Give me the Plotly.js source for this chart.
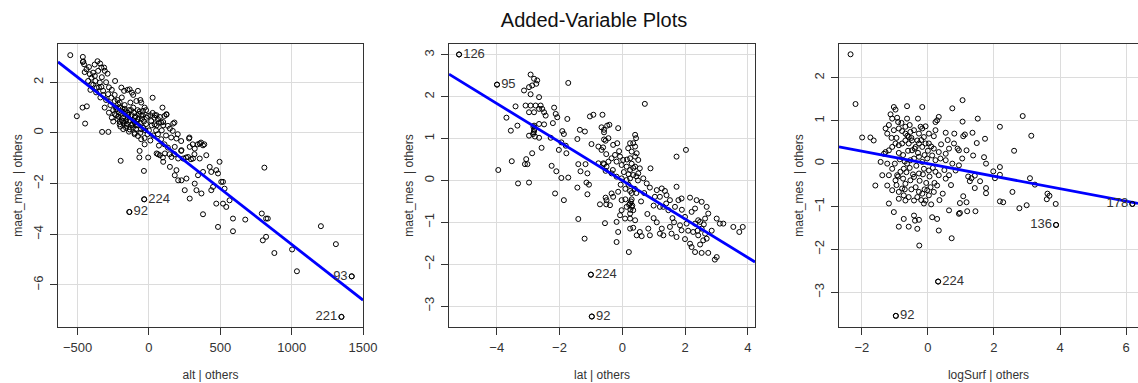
<!DOCTYPE html>
<html>
<head>
<meta charset="utf-8">
<script src="https://cdn.plot.ly/plotly-3.0.1.min.js"></script>
<style>html,body{margin:0;padding:0;background:#fff;}#chart{width:1138px;height:383px;}</style>
</head>
<body>
<div id="chart"></div>
<script>
// ---------- Panel 1: alt | others ----------
const altX = [
-551,-463,-463,-360,-342,-314,-290,-505,-447,-435,-465,-328,-284,-198,-237,26,-35,-67,-5,-137,-33,
-460,-454,-333,-356,-309,-437,-414,-402,-391,-379,-375,-426,-402,-367,-344,-333,-321,-193,-174,-135,-119,-77,-88,-54,
-286,-263,-240,-216,-228,-193,-170,-147,-181,-205,-158,-135,-112,-100,-77,-54,-42,-30,
-7,16,40,63,86,109,133,179,167,202,156,226,284,307,342,365,388,63,86,109,133,144,179,226,260,295,319,63,98,-65,-30,-54,-77,-100,
-180,-160,-150,-140,-120,-110,-100,-90,-80,-70,-60,-50,-40,-20,0,-190,-210,-220,-230,-200,-170,-130,-120,-160,-140,-100,-30,10,30,50,70,90,120,
-250,-260,-270,-280,-300,-310,-320,-340,-350,-370,-390,-410,-420,-450,-380,-330,-300,-280,-260,-240,-220,-205,-190,-150,-110,-60,-20,10,40,70,100,20,-10,26,53,95,123,
42,77,123,170,147,100,54,193,181,228,281,286,356,379,321,402,356,309,274,240,205,158,112,77,54,100,147,193,228,263,205,181,251,286,321,333,368,344,379,426,437,472,484,495,507,519,530,449,437,472,519,542,565,379,484,589,589,675,809,791,821,833,798,821,879,1003,1037,1205,1310,1421,1349,
-215,-205,-195,-185,-175,-165,-155,-145,-135,-125,-115,-105,-95,-85,-75,-65,-55,-45,-35,-25,-15,-200,-180,-240,-230,-250,-170,-110,-90,-60
];
const altY = [
3.07,3.0,2.8,2.83,2.74,2.58,2.34,0.66,0.37,1.05,1.0,0.04,0.04,-1.1,2.05,1.39,-1.5,-0.97,-0.97,-3.12,-2.62,
2.82,2.71,2.58,2.45,2.45,2.51,2.32,2.18,2.38,2.25,2.05,2.05,1.92,1.79,1.99,1.82,1.66,1.79,1.66,1.72,1.59,1.66,1.26,1.2,
1.53,1.39,1.26,1.13,0.93,0.87,0.74,0.60,0.47,0.34,0.28,0.14,0.21,0.41,0.54,0.67,0.87,1.0,
0.67,0.47,0.34,0.54,0.41,0.67,0.28,0.41,0.08,-0.05,-0.18,-0.32,-0.18,-0.45,-0.45,-0.38,-0.45,-0.05,-0.25,-0.45,-0.58,-0.84,-0.84,-0.71,-0.97,-1.04,-0.84,-0.84,-0.97,-0.71,-0.45,-0.25,-0.12,-0.05,
0.6,0.5,0.8,0.9,0.7,0.5,0.6,0.3,0.9,0.75,0.4,0.55,0.2,0.35,0.1,0.5,0.8,0.55,0.7,1.0,1.1,1.2,0.3,0.2,0.05,0.0,-0.2,-0.3,-0.1,0.1,-0.5,0.1,-0.1,
0.9,0.6,1.1,0.8,1.3,1.0,1.5,1.4,1.8,1.6,1.9,1.7,2.6,2.4,2.7,2.2,2.0,1.8,1.7,1.5,1.3,1.2,1.4,1.7,1.5,1.3,0.9,0.7,0.6,0.4,0.3,0.3,-0.05,0.79,0.7,1.0,0.72,
0.70,0.63,0.74,0.37,0.17,0.43,0.30,-0.22,-0.55,-0.68,-0.22,-0.55,-0.42,-0.49,-0.62,-0.88,-1.01,-1.01,-0.95,-1.01,-1.01,-0.95,-0.81,-0.88,-0.81,-1.14,-1.34,-1.47,-1.87,-1.80,-1.87,-1.67,-2.26,-2.59,-2.0,-2.26,-2.39,-1.67,-1.54,-1.34,-1.54,-1.47,-1.60,-1.14,-1.93,-1.93,-2.2,-2.13,-2.26,-2.79,-2.79,-2.92,-2.66,-3.21,-3.71,-3.38,-3.88,-3.42,-1.37,-3.18,-3.38,-3.38,-4.24,-4.1,-4.74,-4.6,-5.46,-3.68,-4.39,-5.66,-7.26,
0.65,0.45,0.75,0.95,0.4,0.85,0.35,0.7,0.5,0.9,0.35,0.8,0.65,0.45,0.3,0.85,0.15,0.7,0.45,0.1,0.6,0.25,0.15,0.75,1.0,0.45,0.95,1.0,0.15,0.0
];
const altLabelText = ['92','224','93','221'];
const altLabelX = [-137,-33,1421,1349];
const altLabelY = [-3.12,-2.62,-5.66,-7.26];
const altLabelSide = ['middle right','middle right','middle left','middle left'];

// ---------- Panel 2: lat | others ----------
const latX = [
-5.20,-3.99,-1.0,-0.97,
-2.92,-2.81,-2.71,-2.74,-2.87,-2.97,-3.13,-2.92,-1.72,-2.65,-3.40,-3.08,-2.92,-2.76,-2.60,-2.55,-2.49,-2.44,-2.65,-2.81,-2.97,-2.17,-2.12,-2.07,-1.75,-2.21,-2.49,-2.65,-2.81,-2.81,-2.84,-2.97,-2.65,-2.57,-2.28,-1.91,-1.86,-1.94,-2.02,-1.80,-1.78,
-3.69,-3.55,-3.34,-3.52,-3.95,-3.32,-2.97,-3.06,-3.02,-3.10,-2.87,-2.25,-2.10,-1.94,-1.72,-2.14,-1.86,-1.40,-1.17,-1.33,-1.11,-1.14,-1.06,-1.43,-1.40,-1.20,-1.11,-0.53,-0.51,-0.48,-1.43,-0.61,-0.53,-0.58,-0.51,-0.58,-0.53,
-2.82,-2.8,-2.83,-2.78,
0.72,-0.92,-1.03,-0.63,-0.66,-0.58,-0.41,-0.13,-1.19,-1.35,-0.58,-0.44,-0.29,-0.16,-0.76,-0.66,-0.98,
0.41,0.44,0.35,0.41,0.25,0.19,0.30,0.46,0.41,0.51,0.25,0.03,-0.07,-0.23,-0.34,-0.18,-0.02,0.14,0.25,0.41,0.56,0.51,0.35,0.25,0.14,-0.02,-0.18,-0.34,-0.50,-0.44,-0.60,-0.76,
1.73,2.03,0.90,0.67,0.78,0.88,1.10,1.26,1.36,1.04,1.20,1.41,1.52,1.73,1.79,1.89,1.68,1.47,1.31,1.20,0.30,0.25,0.35,0.25,0.14,-0.02,-0.07,0.09,0.25,0.41,-0.18,-0.29,-0.39,-0.50,-0.34,-0.13,-0.02,-0.71,-0.55,-0.13,-0.18,0.21,
0.25,0.35,0.56,0.83,0.88,0.62,0.46,1.26,1.31,1.20,1.52,1.57,1.73,1.89,1.84,2.05,2.0,2.21,2.32,2.42,2.32,2.26,2.42,2.16,2.21,2.48,2.58,2.69,2.64,2.53,2.48,2.64,2.74,2.69,2.53,2.37,2.16,3.01,3.11,3.22,3.54,3.84,3.73,2.74,2.53,3.01,2.95,2.32,
0.28,0.32,0.26,0.3,0.22,0.3,0.2,0.1,0.45,0.6,0.8,1.0,1.1,1.6,1.9,2.1,2.6,2.85,2.4,1.0,0.7,0.5,-0.1,-0.3,1.4,1.65,2.0,
0.05,0.15,0.2,0.35,0.4,0.1,0.3,0.45,-0.05,0.25
];
const latY = [
3.01,2.29,-2.25,-3.25,
2.53,2.43,2.39,2.31,2.27,2.23,2.15,2.06,2.33,1.99,1.77,1.79,1.79,1.79,1.79,1.71,1.63,1.55,1.71,1.63,1.63,1.74,1.59,1.51,1.47,1.37,1.34,1.35,1.31,1.19,1.11,1.07,1.02,0.78,1.02,1.18,1.11,0.91,0.73,0.83,0.65,
1.50,1.19,1.31,0.46,0.25,-0.07,-0.05,0.51,0.39,0.39,0.65,0.35,0.22,0.06,0.07,-0.31,-0.47,0.39,0.39,0.22,0.17,-0.05,-0.10,-0.17,-0.92,-1.39,-0.33,-0.41,-0.57,1.31,0.99,0.79,0.95,1.15,0.63,0.39,0.23,
1.15,1.22,1.28,1.05,
1.83,1.57,1.53,1.57,1.27,1.21,1.33,1.25,1.17,1.21,0.98,1.01,0.85,0.89,0.81,0.73,0.87,
1.09,1.01,0.89,0.81,0.89,0.77,0.69,0.65,0.57,0.49,0.53,0.49,0.57,0.61,0.53,0.45,0.37,0.33,0.25,0.33,0.29,0.17,0.13,0.05,0.01,0.05,0.09,0.17,0.33,0.45,0.41,0.41,
0.57,0.73,0.29,0.05,-0.07,-0.17,-0.23,-0.19,-0.25,-0.39,-0.39,-0.35,-0.47,-0.15,-0.47,-0.43,-0.63,-0.71,-0.63,-0.63,-0.63,-0.55,-0.71,-0.79,-0.63,-0.71,-0.83,-0.91,-0.91,-0.95,-0.99,-0.39,-0.59,-0.47,-0.31,-0.27,-0.47,-0.57,-1.02,-1.23,-1.47,-1.71,
-1.15,-1.13,-1.23,-1.15,-1.31,-1.33,-1.31,-1.15,-1.31,-1.27,-1.11,-1.27,-1.35,-1.19,-1.07,-1.03,-0.87,-0.75,-0.67,-0.95,-1.03,-1.23,-1.31,-1.51,-1.59,-1.53,-1.43,-1.39,-1.27,-1.15,-0.99,-0.91,-0.79,-0.63,-0.51,-0.47,-0.41,-0.91,-1.03,-1.03,-1.11,-1.11,-1.23,-1.73,-1.73,-1.83,-1.89,-1.71,
-0.5,-0.6,-0.7,-0.45,-0.58,0.4,0.15,-0.2,-0.3,-0.5,-0.8,-0.9,-1.0,-0.9,-0.7,-1.2,-1.05,-1.2,-1.2,-0.6,-0.3,0.0,0.7,0.25,-0.55,-1.0,-1.4,
0.2,0.5,-0.1,0.3,-0.2,-0.45,-0.3,0.1,-0.1,-0.25
];
const latLabelText = ['126','95','224','92'];
const latLabelX = [-5.20,-3.99,-1.0,-0.97];
const latLabelY = [3.01,2.29,-2.25,-3.25];
const latLabelSide = ['middle right','middle right','middle right','middle right'];

// ---------- Panel 3: logSurf | others ----------
const surfX = [
-1.03,-0.98,-1.13,-1.08,-0.93,-0.90,-1.18,-1.28,-1.23,-1.03,-0.88,-0.78,-0.68,-0.63,-0.68,-0.58,-0.53,-0.48,-0.42,-0.27,-0.22,-0.17,-0.07,-0.12,0.03,0.18,0.23,0.33,0.28,0.23,-0.63,-0.17,0.54,0.74,
0.94,0.79,0.64,0.54,0.33,0.18,0.03,-0.07,-0.17,-0.27,-0.32,-0.37,-0.48,-0.58,-0.68,-0.78,-0.88,-0.98,-1.08,-1.18,-1.28,-1.33,-1.43,-1.23,-1.08,-1.18,-1.38,-1.59,-1.23,-1.08,-0.98,-0.93,-0.83,-0.73,-0.63,-0.53,-0.42,-0.27,-0.17,-0.02,0.13,0.23,0.38,0.54,0.74,0.94,1.04,
0.84,0.64,0.54,0.33,0.23,0.03,-0.12,-0.27,-0.42,-0.53,-0.68,-0.78,-0.88,-0.73,-0.58,-0.42,-0.32,-0.17,-0.02,0.08,0.18,0.28,0.03,-0.07,-0.27,-0.37,-0.88,-0.68,-1.18,-1.03,-0.73,-0.88,-0.58,-0.42,-0.27,-0.32,-0.12,0.13,0.28,0.33,0.64,0.94,
-1.99,-1.74,-1.64,-2.19,-2.34,
1.05,1.05,1.51,2.18,2.87,3.13,2.61,1.07,1.12,1.35,1.48,1.73,1.17,1.37,1.70,1.76,1.98,2.18,2.18,2.03,1.22,1.32,1.42,1.27,1.58,1.42,1.76,1.76,1.07,1.17,0.97,1.44,0.97,2.18,2.28,2.56,2.77,2.99,3.09,3.24,3.62,3.68,3.60,3.87,3.88,6.19,
0.31,-0.97,-0.26,0.72,-0.39,1.19,
-0.85,-0.75,-0.7,-0.65,-0.6,-0.55,-0.5,-0.45,-0.4,-0.35,-0.3,-0.25,-0.2,-0.15,-0.1,-0.05,0.0,0.05,0.1,0.15,-0.9,-0.95,-0.8,-0.7,-0.55,-0.3,-0.1,0.2,0.4,0.5,0.6,0.7,0.45,-0.75,-0.62,-0.88,-0.5,-0.2,0.1,0.35,0.8,0.9,-1.0,-1.1,-0.95
];
const surfY = [
1.32,1.26,1.15,1.05,1.07,0.97,0.90,0.82,0.70,0.78,0.82,0.76,0.86,1.05,0.70,0.62,0.74,0.54,0.78,0.70,0.86,0.82,0.87,0.62,0.70,0.64,0.78,1.09,1.01,0.97,1.34,1.32,0.72,1.29,
0.31,0.47,0.35,0.23,0.27,0.35,0.47,0.47,0.39,0.47,0.54,0.39,0.31,0.47,0.54,0.47,0.43,0.47,0.39,0.31,0.27,0.23,0.04,0.0,-0.12,-0.27,-0.27,-0.51,-0.51,-0.62,-0.39,-0.27,-0.19,-0.12,0.0,0.08,0.12,0.16,0.04,0.12,0.19,0.08,0.12,0.08,0.0,-0.04,0.12,
-0.16,-0.27,-0.35,-0.27,-0.19,-0.16,-0.12,-0.23,-0.31,-0.39,-0.47,-0.58,-0.66,-0.74,-0.78,-0.86,-0.78,-0.70,-0.62,-0.55,-0.66,-0.51,-0.74,-0.86,-0.66,-0.55,-0.82,-0.86,-0.93,-1.13,-1.29,-1.47,-1.47,-1.21,-1.31,-1.52,-0.93,-1.25,-1.29,-1.56,-1.09,-1.17,
0.61,0.61,0.54,1.39,2.55,
1.48,0.98,1.05,0.86,1.11,0.65,0.30,0.64,0.68,0.72,0.48,0.58,0.31,0.19,0.15,0.0,-0.18,-0.08,-0.26,-0.34,-0.30,-0.34,-0.28,-0.41,-0.41,-0.57,-0.57,-0.69,-0.76,-0.90,-0.92,-1.11,-1.15,-0.88,-0.90,-0.66,-1.04,-0.97,-0.34,-0.49,-0.70,-0.75,-0.83,-0.94,-1.43,-0.94,
-2.75,-3.55,-1.91,-1.74,-1.33,-1.11,
0.1,0.2,0.05,-0.2,0.3,-0.1,0.6,-0.25,0.35,-0.05,0.25,-0.4,0.55,-0.25,0.2,-0.45,0.3,-0.3,0.4,-0.1,-0.3,0.6,0.95,-0.6,0.9,1.05,-0.6,-0.45,0.45,-0.15,0.55,-0.5,-0.7,-0.35,0.65,0.25,-0.6,-0.85,-0.95,-0.85,0.7,0.35,0.0,0.6,-0.5
];
const surfLabelText = ['224','92','136','178'];
const surfLabelX = [0.31,-0.97,3.88,6.19];
const surfLabelY = [-2.75,-3.55,-1.43,-0.94];
const surfLabelSide = ['middle right','middle right','middle left','middle left'];

// fitted slopes of the added-variable regression lines (through the origin)
const fitSlopes = [-0.0044, -0.46, -0.146];
const xTitles = ['alt | others', 'lat | others', 'logSurf | others'];
const yTitle = 'maet_mes\u00a0 | others';

// ---------- layout geometry ----------
const W = 1138, H = 383;
const xRanges = [[-637, 1500], [-5.52, 4.23], [-2.69, 6.36]];
const yRanges = [[-7.66, 3.51], [-3.5, 3.26], [-3.81, 2.79]];
const xDomPx = [[58, 363], [449, 755], [839, 1138]];
const yDomPx = [44, 327];
const xDticks = [500, 2, 2];
const yDticks = [2, 1, 1];

const panels = [
  {x: altX, y: altY, lt: altLabelText, lx: altLabelX, ly: altLabelY, ls: altLabelSide},
  {x: latX, y: latY, lt: latLabelText, lx: latLabelX, ly: latLabelY, ls: latLabelSide},
  {x: surfX, y: surfY, lt: surfLabelText, lx: surfLabelX, ly: surfLabelY, ls: surfLabelSide}
];

const font = 'Liberation Sans, Arial, sans-serif';
const traces = [];
const layout = {
  width: W, height: H,
  margin: {l: 0, r: 0, t: 0, b: 0},
  paper_bgcolor: '#fff', plot_bgcolor: '#fff',
  showlegend: false,
  font: {family: font, color: '#333', size: 12},
  title: {text: 'Added-Variable Plots', font: {family: font, size: 20, color: '#111'},
          x: 594 / W, xanchor: 'center', xref: 'paper', y: 1 - 20 / H, yref: 'container', yanchor: 'middle'}
};

const markerStyle = {symbol: 'circle-open', size: 5, color: '#000', line: {width: 1, color: '#000'}};

panels.forEach((p, i) => {
  const xa = i === 0 ? 'x' : 'x' + (i + 1);
  const ya = i === 0 ? 'y' : 'y' + (i + 1);
  traces.push({type: 'scatter', mode: 'markers', x: p.x, y: p.y, xaxis: xa, yaxis: ya,
    marker: markerStyle, hoverinfo: 'skip', cliponaxis: true});
  const xr = xRanges[i];
  traces.push({type: 'scatter', mode: 'lines', x: xr, y: xr.map(v => fitSlopes[i] * v), xaxis: xa, yaxis: ya,
    line: {color: '#0000ff', width: 2.8}, hoverinfo: 'skip'});
  traces.push({type: 'scatter', mode: 'markers+text', x: p.lx, y: p.ly, text: p.lt, textposition: p.ls,
    marker: markerStyle,
    xaxis: xa, yaxis: ya, textfont: {family: font, size: 13, color: '#333'}, hoverinfo: 'skip', cliponaxis: false});

  const common = {
    showgrid: true, gridcolor: '#dcdcdc', gridwidth: 1, zeroline: false,
    showline: true, linecolor: '#333', linewidth: 1,
    ticks: 'outside', ticklen: 7, tickcolor: '#333', tickwidth: 1,
    tickfont: {family: font, size: 13, color: '#333'}
  };
  layout['xaxis' + (i === 0 ? '' : i + 1)] = Object.assign({}, common, {
    domain: [xDomPx[i][0] / W, xDomPx[i][1] / W], range: xRanges[i], anchor: ya,
    dtick: xDticks[i], tick0: 0, mirror: true, ticklabelstandoff: 1,
    title: {text: xTitles[i], font: {family: font, size: 12, color: '#333'}, standoff: 17}
  });
  layout['yaxis' + (i === 0 ? '' : i + 1)] = Object.assign({}, common, {
    domain: [1 - yDomPx[1] / H, 1 - yDomPx[0] / H], range: yRanges[i], anchor: xa,
    dtick: yDticks[i], tick0: 0, mirror: i < 2, tickangle: -90, ticklabelstandoff: 2,
    title: {text: yTitle, font: {family: font, size: 12, color: '#333'}, standoff: 5}
  });
});

Plotly.newPlot('chart', traces, layout, {staticPlot: true, displayModeBar: false});
</script>
</body>
</html>
